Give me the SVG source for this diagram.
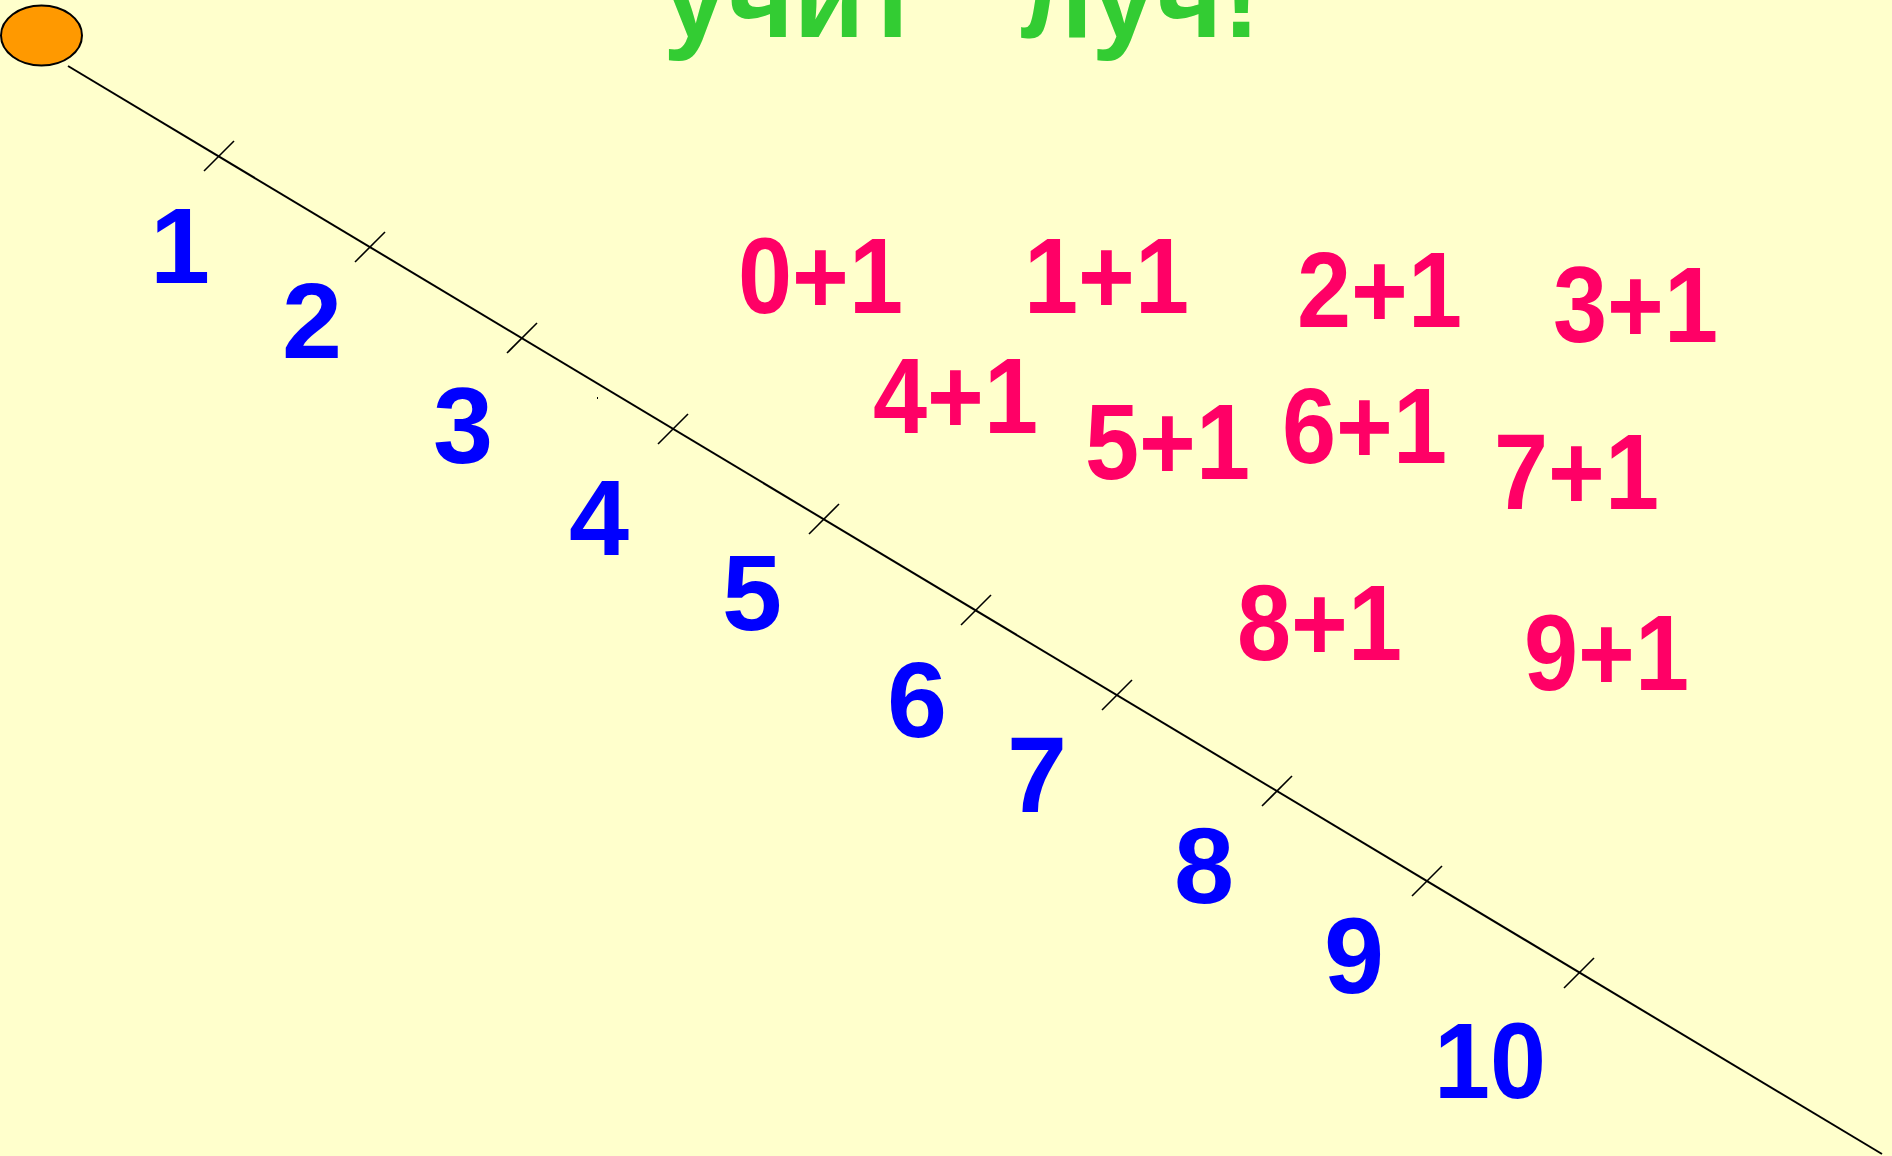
<svg xmlns="http://www.w3.org/2000/svg" width="1892" height="1156" viewBox="0 0 1892 1156">
<style>
.num{font-family:"Liberation Sans",Arial,sans-serif;font-weight:bold;font-size:108px;fill:#0000FF}
.sum{font-family:"Liberation Sans",Arial,sans-serif;font-weight:bold;font-size:108px;fill:#FF0066;text-anchor:end}
.title{font-family:"Liberation Sans",Arial,sans-serif;font-weight:bold;font-size:115px;fill:#33CC33}
.tick{stroke:#000;stroke-width:1.6;fill:none}
</style>
<rect x="0" y="0" width="1892" height="1156" fill="#FFFFCC"/>
<g id="title"><text class="title" x="663" y="37">учит<tspan x="1020">луч!</tspan></text></g>
<g id="connectors">
<line x1="68" y1="66" x2="1882" y2="1154" stroke="#000" stroke-width="2"/>
<g class="tick">
<line x1="204" y1="171" x2="234" y2="141"/>
<line x1="355" y1="262" x2="385" y2="232"/>
<line x1="507" y1="353" x2="537" y2="323"/>
<line x1="658" y1="444" x2="688" y2="414"/>
<line x1="809" y1="534" x2="839" y2="504"/>
<line x1="961" y1="625" x2="991" y2="595"/>
<line x1="1102" y1="710" x2="1132" y2="680"/>
<line x1="1262" y1="806" x2="1292" y2="776"/>
<line x1="1412" y1="896" x2="1442" y2="866"/>
<line x1="1564" y1="988" x2="1594" y2="958"/>
</g>
<rect x="597" y="397" width="1" height="2" fill="#000"/>
</g>
<g id="origin"><ellipse cx="41.5" cy="35.5" rx="40.5" ry="30" fill="#FF9900" stroke="#000" stroke-width="2"/></g>
<g id="n1"><text class="num" x="150" y="283">1</text></g>
<g id="n2"><text class="num" x="282" y="358">2</text></g>
<g id="n3"><text class="num" x="433" y="463">3</text></g>
<g id="n4"><text class="num" x="569" y="555">4</text></g>
<g id="n5"><text class="num" x="722" y="630">5</text></g>
<g id="n6"><text class="num" x="887" y="737">6</text></g>
<g id="n7"><text class="num" x="1007" y="812">7</text></g>
<g id="n8"><text class="num" x="1174" y="903">8</text></g>
<g id="n9"><text class="num" x="1324" y="993">9</text></g>
<g id="n10"><text class="num" x="1434" y="1098" textLength="112" lengthAdjust="spacingAndGlyphs">10</text></g>
<g id="s0"><text class="sum" x="903" y="313" textLength="165" lengthAdjust="spacingAndGlyphs">0+1</text></g>
<g id="s1"><text class="sum" x="1189" y="313" textLength="165" lengthAdjust="spacingAndGlyphs">1+1</text></g>
<g id="s2"><text class="sum" x="1462" y="327" textLength="165" lengthAdjust="spacingAndGlyphs">2+1</text></g>
<g id="s3"><text class="sum" x="1718" y="342" textLength="165" lengthAdjust="spacingAndGlyphs">3+1</text></g>
<g id="s4"><text class="sum" x="1038" y="433" textLength="165" lengthAdjust="spacingAndGlyphs">4+1</text></g>
<g id="s5"><text class="sum" x="1250" y="479" textLength="165" lengthAdjust="spacingAndGlyphs">5+1</text></g>
<g id="s6"><text class="sum" x="1447" y="463" textLength="165" lengthAdjust="spacingAndGlyphs">6+1</text></g>
<g id="s7"><text class="sum" x="1659" y="509" textLength="165" lengthAdjust="spacingAndGlyphs">7+1</text></g>
<g id="s8"><text class="sum" x="1402" y="660" textLength="165" lengthAdjust="spacingAndGlyphs">8+1</text></g>
<g id="s9"><text class="sum" x="1689" y="690" textLength="165" lengthAdjust="spacingAndGlyphs">9+1</text></g>
</svg>
